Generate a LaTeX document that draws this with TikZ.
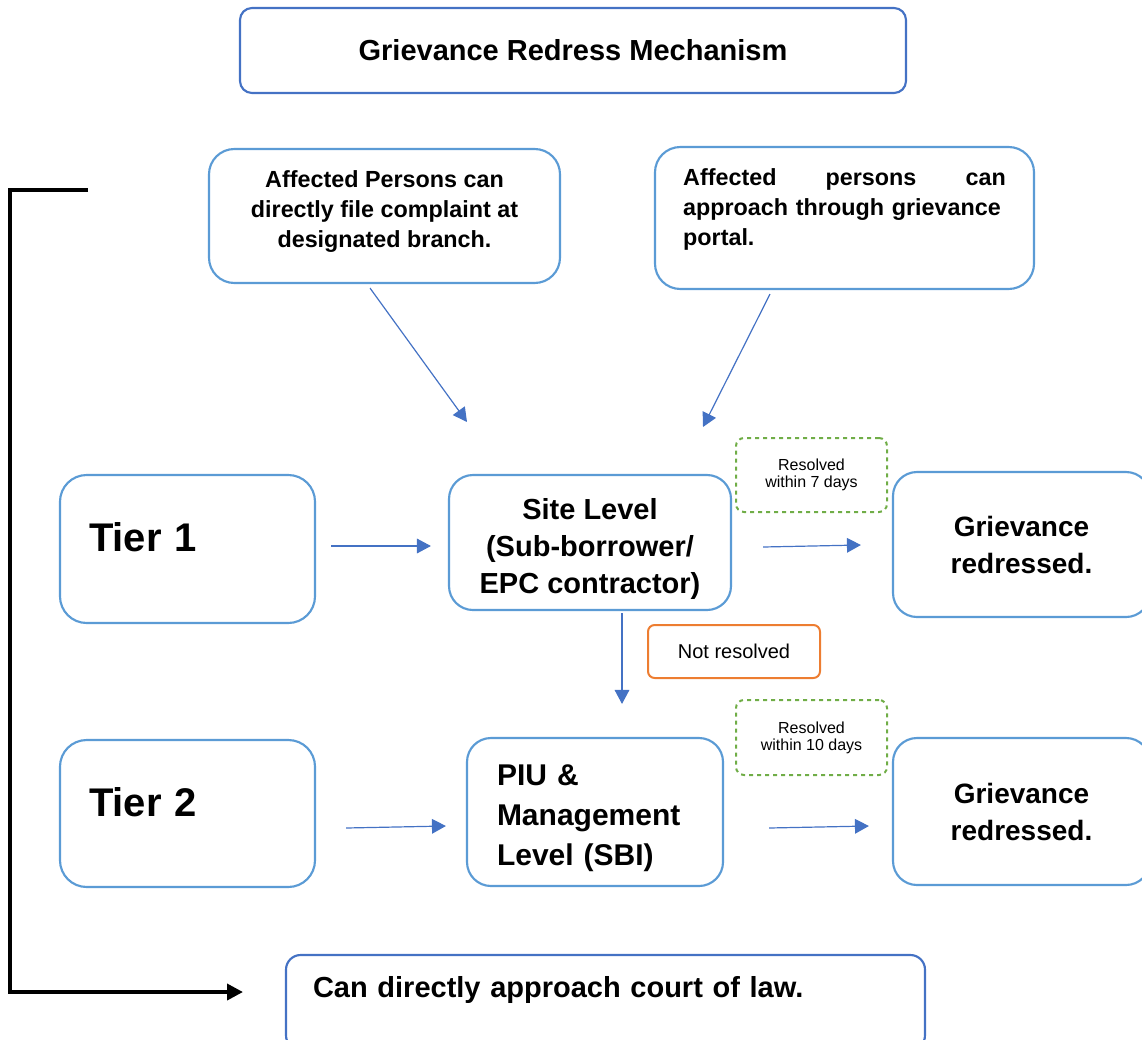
\documentclass[tikz,border=0pt]{standalone}
\usepackage{fontspec}
\setmainfont{Liberation Sans}
\usepackage{tikz}
\usetikzlibrary{calc,arrows.meta}
\definecolor{boxblue}{HTML}{5B9BD5}
\definecolor{darkblue}{HTML}{4472C4}
\definecolor{resgreen}{HTML}{70AD47}
\definecolor{notorange}{HTML}{ED7D31}
\tikzset{
  % sizes are given in pixels of the sketch (1px = 0.75pt)
  wh/.style 2 args={minimum width=#1*0.75pt,minimum height=#2*0.75pt},
  % Boxes: blue rounded, dashed green and orange
  blue box/.style={rectangle,draw=boxblue,line width=1.6pt,rounded corners=18pt,font=\bfseries},
  title box/.style={rectangle,draw=darkblue,line width=1.6pt,rounded corners=9pt,font=\bfseries\fontsize{21.75}{26}\selectfont},
  res box/.style={rectangle,draw=resgreen,dashed,line width=1.5pt,rounded corners=6pt,align=center,font=\fontsize{12}{12.75}\selectfont},
  not box/.style={rectangle,draw=notorange,line width=1.5pt,rounded corners=5pt,font=\fontsize{15}{18}\selectfont},
  % arrows
  flow/.style={draw=darkblue,line width=0.9pt,-{Triangle[length=10.5pt,width=11pt]}},
  court arrow/.style={draw=black,line width=2.8pt,-{Triangle[length=12pt,width=12pt]}}
}

\begin{document}
\begin{tikzpicture}[x=0.75pt,y=-0.75pt]
  \useasboundingbox (0,0) rectangle (1142,1039);
  % Heading
  \node(title)[title box,wh={666}{85}] at (573,50.5) {Grievance Redress Mechanism};
  % Ways in
  \node(affA)[blue box,wh={351}{134},rounded corners=19pt,align=center,text depth=10.5pt,
    font=\bfseries\fontsize{17.5}{22.5}\selectfont] at (384.5,216)
    {Affected Persons can\\directly file complaint at\\designated branch.};
  \node(affB)[blue box,wh={379}{142},rounded corners=19pt,align=left,text width=242pt,text depth=61pt,
    font=\bfseries\fontsize{17.5}{22.5}\selectfont] at (844.5,218)
    {Affected\hfill persons\hfill can\\approach through grievance\\portal.};
  % Tier 1
  \node(t1)[blue box,wh={255}{148},rounded corners=20pt,align=left,text width=147.75pt,inner xsep=21.75pt,
    text depth=18pt,font=\bfseries\fontsize{30}{36}\selectfont] at (187.5,549) {Tier 1};
  \node(site)[blue box,wh={282}{135},align=center,text height=80.4pt,
    font=\bfseries\fontsize{21.75}{27.75}\selectfont] at (590,542.5)
    {Site Level\\(Sub-borrower/\\EPC contractor)};
  \node(res1)[res box,wh={151}{74}] at (811.5,475) {Resolved\\within 7 days};
  \node(g1)[blue box,wh={257}{145},align=center,font=\bfseries\fontsize{21}{27.75}\selectfont] at (1021.5,544.5)
    {Grievance\\redressed.};
  \node(notres)[not box,wh={172}{53}] at (734,651.5) {Not resolved};
  % Tier 2
  \node(t2)[blue box,wh={255}{147},rounded corners=20pt,align=left,text width=147.75pt,inner xsep=21.75pt,
    text depth=18pt,font=\bfseries\fontsize{30}{36}\selectfont] at (187.5,813.5) {Tier 2};
  \node(piu)[blue box,wh={256}{148},align=left,text width=147pt,inner xsep=22.5pt,text height=25pt,
    font=\bfseries\fontsize{22.5}{30}\selectfont] at (595,812)
    {PIU \&\\Management\\Level (SBI)};
  \node(res2)[res box,wh={151}{75}] at (811.5,737.5) {Resolved\\within 10 days};
  \node(g2)[blue box,wh={257}{147},align=center,font=\bfseries\fontsize{21}{27.75}\selectfont] at (1021.5,811.5)
    {Grievance\\redressed.};
  % Court
  \node(court)[blue box,draw=darkblue,wh={639}{95},rounded corners=11pt,align=left,text width=438.75pt,
    inner xsep=20.25pt,text depth=24pt,font=\bfseries\fontsize{21.75}{26}\selectfont] at (605.5,1002.5)
    {Can directly approach court of law.};
  % Connectors
  \coordinate (tipA) at (467,422);
  \coordinate (tipB) at (703,427);
  \draw[flow] ($(affA.south)+(-14.5,4)$) -- (tipA);
  \draw[flow] ($(affB.south)+(-74.5,4)$) -- (tipB);
  \draw[flow] ($(t1.east)+(15,-3)$) -- ($(site.west)+(-17,3.5)$);
  \draw[flow] ($(site.east)+(31,4.5)$) -- ($(g1.west)+(-31,0.5)$);
  \draw[flow] ($(site.south)+(32,2)$) -- ($(piu.north)+(27,-33)$);
  \draw[flow] ($(t2.east)+(30,14.5)$) -- ($(piu.west)+(-20,14)$);
  \draw[flow] ($(piu.east)+(45,16)$) -- ($(g2.west)+(-23,14.5)$);
  % bracket to the court
  \coordinate (brk) at (88,190);
  \coordinate (lawin) at (243,992);
  \draw[court arrow] (brk) -- ++(-78,0) |- (lawin);
\end{tikzpicture}
\end{document}
